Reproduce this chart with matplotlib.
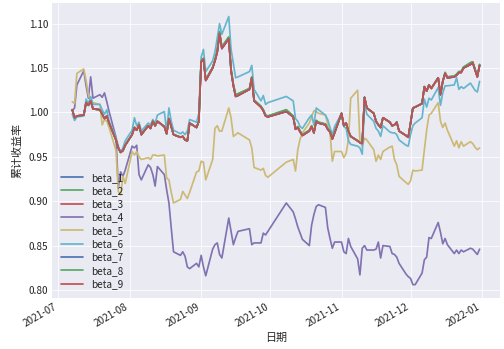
import pandas as pd
import matplotlib
matplotlib.use("Agg")
import matplotlib.pyplot as plt
import matplotlib.dates as mdates

# trading days, Jul 7 - Dec 31 2021 (SSE calendar)
holidays = ["2021-09-20", "2021-09-21", "2021-10-01", "2021-10-04",
            "2021-10-05", "2021-10-06", "2021-10-07"]
dates = pd.bdate_range("2021-07-07", "2021-12-31", freq="C", holidays=holidays)

# red group (beta_1, beta_3, beta_7, beta_9)
red_jul = [1.003, 0.994, 0.996, 0.997, 1.011, 1.008, 1.013, 1.004, 1.003, 0.998,
           0.993, 0.996, 0.988, 0.969, 0.960, 0.955, 0.957, 0.963]
red_aug = [0.975, 0.983, 0.980, 0.986, 0.975, 0.985, 0.982, 0.990, 0.985, 0.990,
           0.984, 0.976, 0.993, 0.984, 0.975, 0.972, 0.973, 0.969, 0.968, 0.988,
           0.983, 0.990]
red_sep = [1.057, 1.060, 1.036, 1.050, 1.058, 1.068, 1.089, 1.072, 1.083, 1.047,
           1.030, 1.018, 1.019, 1.026, 1.039, 1.013, 1.006, 1.002, 0.996, 0.995]
red_oct = [1.001, 0.995, 0.981, 0.983, 0.978, 0.974, 0.979, 0.984, 0.977, 0.990,
           0.988, 0.986, 0.981, 0.978, 0.970, 0.977]
red_nov = [0.999, 0.985, 0.988, 0.979, 0.973, 0.968, 0.966, 0.965, 1.017, 1.005,
           0.999, 0.990, 0.986, 0.983, 0.994, 0.989, 0.985, 0.986, 0.989, 0.979,
           0.974, 0.972]
red_dec = [0.988, 1.005, 1.006, 1.010, 1.029, 1.024, 1.031, 1.027, 1.039, 1.020,
           1.035, 1.044, 1.039, 1.040, 1.042, 1.045, 1.045, 1.050, 1.054, 1.056,
           1.048, 1.040, 1.053]

# green group (beta_2, beta_8), sits a hair above red in places
green_sep = [1.058, 1.061, 1.037, 1.051, 1.059, 1.070, 1.091, 1.074, 1.085, 1.049,
             1.032, 1.020, 1.021, 1.027, 1.040, 1.014, 1.007, 1.003, 0.997, 0.996]
green_oct = [1.003, 0.996, 0.982, 0.984, 0.979, 0.975, 0.980, 0.985, 0.978, 0.991,
             0.989, 0.987, 0.982, 0.979, 0.971, 0.978]
green_dec = [0.988, 1.005, 1.006, 1.010, 1.029, 1.024, 1.031, 1.027, 1.039, 1.020,
             1.035, 1.045, 1.040, 1.041, 1.043, 1.046, 1.046, 1.051, 1.056, 1.057,
             1.049, 1.041, 1.054]

beta_4 = [1.002, 1.005, 1.031, 1.047, 1.030, 1.016, 1.040, 1.016, 1.020, 1.017,
          1.022, 1.012, 1.001, 0.972, 0.915, 0.933, 0.928, 0.935,
          0.962, 0.960, 0.963, 0.930, 0.924, 0.941, 0.938, 0.930, 0.917, 0.939,
          0.930, 0.913, 0.898, 0.870, 0.843, 0.839, 0.843, 0.838, 0.826, 0.824,
          0.830, 0.826,
          0.839, 0.826, 0.816, 0.846, 0.851, 0.853, 0.840, 0.836, 0.881, 0.866,
          0.851, 0.859, 0.866, 0.869, 0.851, 0.853, 0.853, 0.864, 0.862, 0.866,
          0.898, 0.888, 0.880, 0.871, 0.864, 0.857, 0.850, 0.873, 0.885, 0.894,
          0.896, 0.893, 0.870, 0.858, 0.847, 0.854,
          0.854, 0.843, 0.841, 0.858, 0.849, 0.835, 0.817, 0.847, 0.850, 0.845,
          0.845, 0.846, 0.854, 0.836, 0.850, 0.849, 0.841, 0.840, 0.837, 0.830,
          0.818, 0.815,
          0.813, 0.806, 0.806, 0.819, 0.834, 0.837, 0.859, 0.858, 0.876, 0.865,
          0.852, 0.858, 0.851, 0.841, 0.845, 0.841, 0.845, 0.843, 0.847, 0.846,
          0.843, 0.840, 0.846]

beta_5 = [1.012, 1.010, 1.044, 1.049, 1.036, 1.020, 1.012, 1.011, 1.009, 0.986,
          0.992, 0.990, 0.983, 0.957, 0.911, 0.907, 0.928, 0.920,
          0.956, 0.952, 0.956, 0.950, 0.947, 0.949, 0.947, 0.952, 0.952, 0.951,
          0.952, 0.926, 0.924, 0.910, 0.898, 0.902, 0.911, 0.907, 0.903, 0.910,
          0.933, 0.934,
          0.945, 0.944, 0.924, 0.947, 0.982, 0.985, 0.979, 0.979, 1.005, 0.994,
          0.973, 0.975, 0.977, 0.969, 0.960, 0.938, 0.935, 0.937, 0.929, 0.927,
          0.944, 0.947, 0.934, 0.958, 0.970, 0.977, 0.988, 0.995, 1.002, 1.001,
          0.999, 0.997, 0.987, 0.977, 0.945, 0.956,
          0.956, 0.949, 0.954, 0.969, 1.016, 1.025, 0.967, 0.962, 0.971, 0.969,
          0.958, 0.945, 0.952, 0.947, 0.956, 0.961, 0.962, 0.947, 0.941, 0.928,
          0.921, 0.919,
          0.923, 0.935, 0.934, 0.935, 0.958, 0.980, 0.997, 0.999, 1.011, 0.990,
          0.983, 0.988, 0.980, 0.962, 0.968, 0.960, 0.967, 0.962, 0.967, 0.965,
          0.961, 0.958, 0.960]

beta_6 = [0.998, 0.991, 0.995, 0.996, 1.015, 1.010, 1.018, 1.009, 1.009, 1.003,
          0.998, 1.003, 0.990, 0.972, 0.962, 0.955, 0.960, 0.968,
          0.980, 0.994, 0.985, 0.989, 0.979, 0.988, 0.986, 0.992, 0.988, 0.997,
          1.001, 0.979, 1.005, 0.990, 0.980, 0.976, 0.978, 0.975, 0.979, 0.992,
          0.989, 0.999,
          1.062, 1.071, 1.046, 1.058, 1.068, 1.084, 1.100, 1.088, 1.108, 1.071,
          1.055, 1.039, 1.040, 1.046, 1.053, 1.026, 1.013, 1.019, 1.009, 1.011,
          1.018, 1.013, 0.993, 0.990, 0.984, 0.982, 0.994, 0.997, 0.986, 1.005,
          1.003, 0.997, 0.992, 0.983, 0.975, 0.984,
          0.999, 0.984, 0.982, 0.968, 0.964, 0.962, 0.960, 0.953, 1.010, 0.998,
          0.990, 0.982, 0.979, 0.973, 0.985, 0.978, 0.977, 0.977, 0.975, 0.969,
          0.963, 0.962,
          0.975, 0.985, 0.988, 0.994, 1.015, 1.006, 1.016, 1.014, 1.028, 1.008,
          1.022, 1.030, 1.030, 1.031, 1.039, 1.026, 1.029, 1.027, 1.033, 1.029,
          1.025, 1.023, 1.035]

red = red_jul + red_aug + red_sep + red_oct + red_nov + red_dec
green = red_jul + red_aug + green_sep + green_oct + red_nov + green_dec

series = {
    "beta_1": red, "beta_2": green, "beta_3": red, "beta_4": beta_4,
    "beta_5": beta_5, "beta_6": beta_6, "beta_7": red, "beta_8": green,
    "beta_9": red,
}
df = pd.DataFrame(series, index=dates)

plt.style.use("seaborn-v0_8-darkgrid")
plt.rcParams["font.family"] = ["Noto Sans CJK SC", "DejaVu Sans"]
plt.rcParams["axes.unicode_minus"] = False

colors = ["#4C72B0", "#55A868", "#C44E52", "#8172B2", "#CCB974", "#64B5CD"]

fig, ax = plt.subplots(figsize=(7.0, 349 / 72), dpi=72)
for i, col in enumerate(df.columns):
    ax.plot(df.index, df[col], color=colors[i % 6], linewidth=1.7, label=col)

ax.xaxis.set_major_locator(mdates.MonthLocator())
ax.xaxis.set_major_formatter(mdates.DateFormatter("%Y-%m"))
ax.tick_params(labelsize=10, colors="#262626")
for lab in ax.get_xticklabels():
    lab.set_rotation(30)
    lab.set_ha("right")
ax.set_yticks([0.80, 0.85, 0.90, 0.95, 1.00, 1.05, 1.10])
ax.set_xlabel("日期", fontsize=11, color="#262626")
ax.set_ylabel("累计收益率", fontsize=11, color="#262626", labelpad=6)
ax.legend(loc="lower left", fontsize=10, frameon=False, labelspacing=0.33,
          handlelength=2.2)

fig.subplots_adjust(left=0.103, right=0.992, top=0.991, bottom=0.146)
fig.savefig("out.png", dpi=72)
